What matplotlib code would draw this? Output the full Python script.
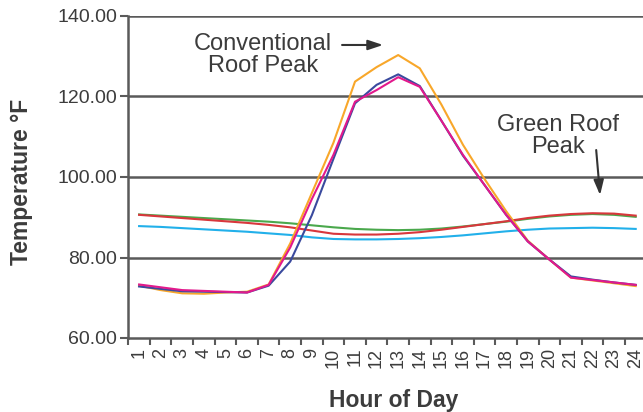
import matplotlib
matplotlib.use("Agg")
import matplotlib.pyplot as plt
from matplotlib.ticker import FixedLocator, FormatStrFormatter

plt.rcParams['font.family'] = ['Liberation Sans', 'DejaVu Sans']

hours = list(range(1, 25))
hour_labels = [str(h) for h in hours]

# Hourly surface temperatures (°F)
conventional_a = [73.0, 71.9, 71.1, 71.0, 71.3, 71.5, 73.3, 83.5, 96.0, 108.5, 123.7, 127.3,
                  130.3, 127.0, 118.0, 108.0, 99.5, 91.5, 84.2, 79.5, 75.0, 74.3, 73.6, 72.9]
conventional_b = [72.8, 72.2, 71.6, 71.5, 71.4, 71.3, 73.0, 79.0, 90.5, 104.5, 118.3, 122.9,
                  125.5, 122.6, 114.0, 105.3, 98.0, 90.6, 84.0, 79.5, 75.3, 74.5, 73.8, 73.2]
conventional_c = [73.3, 72.6, 71.9, 71.7, 71.5, 71.3, 73.2, 82.5, 94.5, 105.5, 118.7, 121.6,
                  124.8, 122.4, 114.0, 105.5, 98.0, 90.6, 84.0, 79.5, 75.0, 74.4, 73.8, 73.2]
green_a = [90.7, 90.4, 90.1, 89.8, 89.5, 89.2, 88.9, 88.5, 88.0, 87.5, 87.1, 86.9,
           86.8, 86.9, 87.2, 87.7, 88.3, 88.9, 89.6, 90.2, 90.6, 90.8, 90.6, 90.1]
green_b = [90.6, 90.2, 89.8, 89.4, 89.0, 88.6, 88.1, 87.5, 86.7, 85.9, 85.7, 85.7,
           85.9, 86.3, 86.9, 87.6, 88.3, 89.0, 89.8, 90.4, 90.8, 91.0, 90.9, 90.4]
green_c = [87.8, 87.6, 87.3, 87.0, 86.7, 86.4, 86.0, 85.6, 85.0, 84.6, 84.5, 84.5,
           84.6, 84.8, 85.1, 85.5, 86.0, 86.5, 86.9, 87.2, 87.3, 87.4, 87.3, 87.1]

y_ticks = [60, 80, 100, 120, 140]

W, H = 643, 412
fig = plt.figure(figsize=(W / 100, H / 100), dpi=100)
ax = fig.add_axes([128.3 / W, (H - 338) / H, 518.2 / W, 322 / H])

grid_col = '#5a5a5a'
text_col = '#3c3c3c'

for v in y_ticks[1:]:
    ax.axhline(v, color=grid_col, lw=1.8, zorder=1)

lw = 1.5
ax.plot(hours, green_c, color='#22b0ea', lw=lw, zorder=3)
ax.plot(hours, green_a, color='#4aa84c', lw=lw, zorder=3)
ax.plot(hours, green_b, color='#d8373c', lw=lw, zorder=3)
ax.plot(hours, conventional_a, color='#f8a72a', lw=lw, zorder=4)
ax.plot(hours, conventional_b, color='#3a4a9e', lw=lw, zorder=4)
ax.plot(hours, conventional_c, color='#e2198c', lw=lw, zorder=5)

ax.set_xlim(0.5, 24.5)
ax.set_ylim(60, 140)

for s in ['top', 'right']:
    ax.spines[s].set_visible(False)
for s in ['left', 'bottom']:
    ax.spines[s].set_color(grid_col)
    ax.spines[s].set_linewidth(1.8)

ax.yaxis.set_major_locator(FixedLocator(y_ticks))
ax.yaxis.set_major_formatter(FormatStrFormatter('%.2f'))
ax.tick_params(axis='y', length=6, width=1.5, color=grid_col, pad=2,
               labelsize=14, labelcolor=text_col)

ax.set_xticks(hours)
ax.set_xticklabels(hour_labels, rotation=90)
ax.set_xticks([h - 0.5 for h in hours], minor=True)
ax.tick_params(axis='x', which='major', length=0, pad=7, labelsize=13, labelcolor=text_col)
ax.tick_params(axis='x', which='minor', length=5, width=1.5, color=grid_col)

fig.text(22 / W, (H - 182) / H, 'Temperature °F', rotation=90, ha='center', va='center',
         fontsize=16.5, fontweight='bold', color=text_col)
fig.text(394 / W, (H - 400) / H, 'Hour of Day', ha='center', va='center',
         fontsize=16.5, fontweight='bold', color=text_col)

ax.text(6.75, 130.3, 'Conventional\nRoof Peak', ha='center', va='center',
        fontsize=17, color=text_col, linespacing=0.95)
ax.annotate('', xy=(12.3, 132.8), xytext=(10.4, 132.8),
            arrowprops=dict(arrowstyle='-|>,head_length=0.9,head_width=0.3',
                            color='#333333', lw=1.5, shrinkA=0, shrinkB=0))

ax.text(20.4, 110.2, 'Green Roof\nPeak', ha='center', va='center',
        fontsize=17, color=text_col, linespacing=0.95)
ax.annotate('', xy=(22.35, 95.5), xytext=(22.17, 106.7),
            arrowprops=dict(arrowstyle='-|>,head_length=0.9,head_width=0.3',
                            color='#333333', lw=1.5, shrinkA=0, shrinkB=0))

fig.savefig('out.png', dpi=100)
